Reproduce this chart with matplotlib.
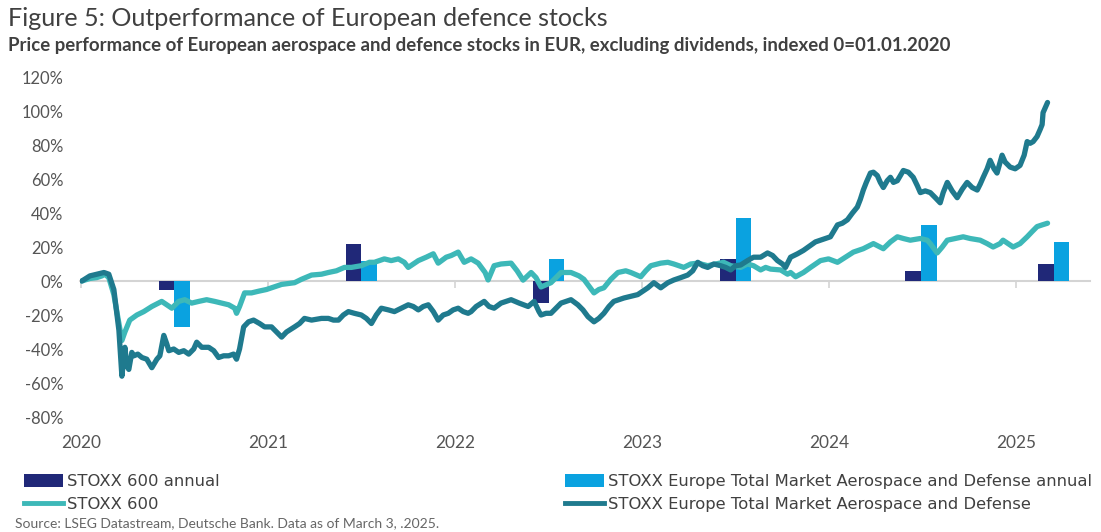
import matplotlib
matplotlib.use("Agg")
import matplotlib.pyplot as plt
from matplotlib.patches import Patch
from matplotlib.lines import Line2D
from matplotlib import font_manager as fm
import numpy as np

# ---------------- data ----------------
years = [2020, 2021, 2022, 2023, 2024, 2025]
year_labels = ["2020", "2021", "2022", "2023", "2024", "2025"]

# annual bar positions (fraction of year) and values (%)
bar_pos = [2020.50, 2021.50, 2022.50, 2023.50, 2024.49, 2025.20]
stoxx_annual = [-5, 22, -13, 13, 6, 10]
aero_annual = [-27, 12, 13, 37, 33, 23]

# STOXX 600 index performance (time as fractional year, value %)
stoxx_t = [2020.005, 2020.048, 2020.085, 2020.112, 2020.128, 2020.149, 2020.176, 2020.203,
           2020.219, 2020.235, 2020.261, 2020.299, 2020.336, 2020.379, 2020.432, 2020.459,
           2020.486, 2020.523, 2020.555, 2020.592, 2020.630, 2020.672, 2020.715, 2020.752,
           2020.790, 2020.822, 2020.832, 2020.848, 2020.875, 2020.912, 2020.950, 2020.992,
           2021.019, 2021.073, 2021.142, 2021.179, 2021.233, 2021.286, 2021.323, 2021.366,
           2021.409, 2021.446, 2021.499, 2021.542, 2021.569, 2021.622, 2021.659, 2021.697,
           2021.729, 2021.750, 2021.777, 2021.804, 2021.846, 2021.884, 2021.910, 2021.953,
           2021.980, 2022.017, 2022.049, 2022.086, 2022.124, 2022.161, 2022.177, 2022.209,
           2022.246, 2022.300, 2022.332, 2022.364, 2022.407, 2022.433, 2022.460, 2022.513,
           2022.567, 2022.620, 2022.663, 2022.689, 2022.716, 2022.743, 2022.769, 2022.796,
           2022.833, 2022.871, 2022.913, 2022.940, 2022.993, 2023.020, 2023.047, 2023.100,
           2023.138, 2023.170, 2023.223, 2023.260, 2023.298, 2023.351, 2023.394, 2023.436,
           2023.474, 2023.527, 2023.564, 2023.596, 2023.634, 2023.661, 2023.687, 2023.741,
           2023.778, 2023.794, 2023.821, 2023.863, 2023.901, 2023.954, 2023.997, 2024.045,
           2024.087, 2024.130, 2024.183, 2024.237, 2024.290, 2024.328, 2024.365, 2024.397,
           2024.434, 2024.488, 2024.525, 2024.541, 2024.578, 2024.605, 2024.632, 2024.674,
           2024.717, 2024.754, 2024.808, 2024.845, 2024.877, 2024.914, 2024.930, 2024.957,
           2024.984, 2025.021, 2025.059, 2025.085, 2025.112, 2025.139, 2025.168]
stoxx_v = [0, 1.5, 2, 3, 4, 2, -8, -25,
           -35, -30, -23, -20, -18, -15, -12, -14,
           -16, -12, -11, -13, -12, -11, -12, -13,
           -14, -16, -19, -15, -7, -7, -6, -5,
           -4, -2, -1, 1, 3.5, 4, 5, 6,
           8, 8, 9, 11, 11, 13, 12, 13,
           11, 8, 10, 12, 14, 16, 10.5, 14,
           15, 17, 11, 13, 10.5, 5, 0.6, 9,
           10, 10.5, 6, 0.5, 5, 2, -3.5, -1,
           5, 5, 3, 1, -3, -7, -5, -4,
           1, 5, 6, 5, 2.5, 6, 9, 10.5,
           11, 10, 8, 10, 10.5, 9, 10, 11,
           9, 8, 10, 9, 6.5, 8, 7, 6.5,
           4, 5, 2.5, 5, 8, 12, 13, 11,
           14, 17, 19, 22, 19, 23, 26, 25,
           24, 25, 24, 22, 16.5, 20, 24, 25,
           26, 25, 24, 22, 20, 22, 24, 22,
           20, 22, 26, 29, 32, 33, 34]

# STOXX Europe Total Market Aerospace and Defense performance
aero_t = [2020.005, 2020.048, 2020.085, 2020.123, 2020.149, 2020.176, 2020.203, 2020.219,
          2020.229, 2020.235, 2020.245, 2020.256, 2020.272, 2020.283, 2020.304, 2020.326,
          2020.352, 2020.379, 2020.406, 2020.422, 2020.443, 2020.459, 2020.470, 2020.496,
          2020.523, 2020.550, 2020.576, 2020.603, 2020.619, 2020.646, 2020.683, 2020.710,
          2020.736, 2020.763, 2020.790, 2020.816, 2020.832, 2020.848, 2020.870, 2020.896,
          2020.923, 2020.955, 2020.982, 2021.019, 2021.046, 2021.073, 2021.099, 2021.142,
          2021.169, 2021.195, 2021.233, 2021.286, 2021.323, 2021.350, 2021.377, 2021.403,
          2021.430, 2021.462, 2021.499, 2021.526, 2021.553, 2021.579, 2021.606, 2021.644,
          2021.676, 2021.713, 2021.750, 2021.777, 2021.804, 2021.830, 2021.857, 2021.884,
          2021.910, 2021.937, 2021.964, 2021.990, 2022.017, 2022.044, 2022.070, 2022.086,
          2022.113, 2022.156, 2022.182, 2022.209, 2022.246, 2022.300, 2022.343, 2022.391,
          2022.423, 2022.449, 2022.460, 2022.487, 2022.513, 2022.540, 2022.567, 2022.593,
          2022.620, 2022.657, 2022.684, 2022.711, 2022.743, 2022.769, 2022.796, 2022.823,
          2022.849, 2022.876, 2022.903, 2022.940, 2022.977, 2023.004, 2023.031, 2023.063,
          2023.100, 2023.138, 2023.170, 2023.207, 2023.244, 2023.271, 2023.298, 2023.324,
          2023.351, 2023.383, 2023.420, 2023.447, 2023.474, 2023.500, 2023.527, 2023.564,
          2023.596, 2023.634, 2023.671, 2023.698, 2023.724, 2023.751, 2023.767, 2023.794,
          2023.831, 2023.863, 2023.901, 2023.927, 2023.954, 2023.981, 2024.007, 2024.045,
          2024.071, 2024.098, 2024.125, 2024.151, 2024.167, 2024.183, 2024.199, 2024.221,
          2024.237, 2024.258, 2024.274, 2024.290, 2024.311, 2024.328, 2024.344, 2024.365,
          2024.381, 2024.397, 2024.424, 2024.450, 2024.472, 2024.488, 2024.514, 2024.541,
          2024.568, 2024.594, 2024.610, 2024.632, 2024.658, 2024.685, 2024.712, 2024.738,
          2024.765, 2024.792, 2024.808, 2024.824, 2024.845, 2024.861, 2024.882, 2024.898,
          2024.925, 2024.941, 2024.968, 2024.995, 2025.021, 2025.043, 2025.059, 2025.075,
          2025.091, 2025.112, 2025.128, 2025.139, 2025.144, 2025.168]
aero_v = [0, 3, 4, 5, 4, -5, -29, -56,
          -45, -39, -50, -52, -42, -44, -43, -45,
          -46, -51, -46, -44, -32, -37, -41, -40,
          -42, -41, -43, -40, -36, -39, -39, -41,
          -45, -44, -44, -43, -46, -40, -27, -24,
          -23, -25, -27, -27, -30, -33, -30, -27,
          -25, -22, -23, -22, -22, -23, -23, -20,
          -18, -19, -20, -22, -25, -20, -16, -17,
          -18, -16, -14, -15, -17, -15, -14, -18,
          -23, -20, -19, -17, -16, -18, -19, -18,
          -15, -12, -15, -16, -13, -11, -13, -15,
          -12, -18, -20, -19, -19, -16, -13, -12,
          -11, -14, -17, -21, -24, -22, -19, -15,
          -12, -11, -10, -9, -8, -6, -4, -1,
          -4, -1, 0.6, 2, 3.5, 6, 11, 9,
          8, 10, 9, 8, 6.5, 9, 9.4, 12,
          14, 14, 16.5, 15, 12, 10, 8, 14,
          16, 18, 21, 23, 24, 25, 26, 33,
          34, 36, 40, 43.5, 48, 53.5, 58, 63.5,
          64, 62, 58, 55, 59, 61, 58, 59,
          62, 65, 64, 61, 56, 52, 53, 52,
          49, 46, 52, 58, 53, 49, 54, 58,
          55, 53.5, 57, 61, 66, 71, 66, 63.5,
          74, 70, 67, 66, 68, 74, 82, 81,
          82, 85, 89, 92, 99, 105]

# ---------------- styling ----------------
C_DARK_BAR = "#202878"
C_LIGHT_BAR = "#0aa2e0"
C_STOXX = "#3db8b8"
C_AERO = "#1f7a8e"
TXT = "#404040"

W, H = 1101, 532
fig = plt.figure(figsize=(W / 100, H / 100), dpi=100)
renderer = fig.canvas.get_renderer()

FP_SANS = fm.FontProperties(family=["Lato", "DejaVu Sans"])
FP_SANS_B = fm.FontProperties(family=["Lato", "DejaVu Sans"], weight="bold")
FP_LEG = fm.FontProperties(family=["DejaVu Sans"])
FP_SRC = fm.FontProperties(family=["Lato", "DejaVu Sans"])


def fitted(fp, s, target_px, base=12.0):
    p = fp.copy()
    p.set_size(base)
    t = fig.text(0, 0, s, fontproperties=p)
    w = t.get_window_extent(renderer).width
    t.remove()
    q = fp.copy()
    q.set_size(base * target_px / w)
    return q


ax = fig.add_axes([80 / W, 1 - 417 / H, 1010 / W, 340 / H])

bar_w = 0.085
ax.bar(np.array(bar_pos) - bar_w / 2, stoxx_annual, width=bar_w, color=C_DARK_BAR, zorder=2)
ax.bar(np.array(bar_pos) + bar_w / 2, aero_annual, width=bar_w, color=C_LIGHT_BAR, zorder=2)

ax.plot(stoxx_t, stoxx_v, color=C_STOXX, lw=3.8, solid_joinstyle="round", solid_capstyle="round", zorder=3)
ax.plot(aero_t, aero_v, color=C_AERO, lw=3.8, solid_joinstyle="round", solid_capstyle="round", zorder=4)

ax.set_xlim(2019.995, 2025.395)
ax.set_ylim(-80, 120)
for s in ax.spines.values():
    s.set_visible(False)

ytick_vals = list(range(-80, 121, 20))
fp_y = fitted(FP_SANS, "120%", 42)
ax.set_yticks(ytick_vals)
ax.set_yticklabels([f"{v}%" for v in ytick_vals], fontproperties=fp_y, color="#555555")
ax.tick_params(axis="y", length=0, pad=12)

fp_x = fitted(FP_SANS, "2020", 40)
ax.set_xticks(years)
ax.set_xticklabels(year_labels, fontproperties=fp_x, color="#555555")
ax.tick_params(axis="x", length=0, pad=13)

# zero axis line with tick marks
sec = ax.secondary_xaxis(0.4)
sec.set_xticks(years)
sec.set_xticklabels([])
sec.spines["bottom"].set_color("#d4d4d4")
sec.spines["bottom"].set_linewidth(1.5)
sec.tick_params(axis="x", color="#d4d4d4", length=5, width=1.2, direction="out")
sec.set_zorder(1)

# titles
title = "Figure 5: Outperformance of European defence stocks"
subtitle = ("Price performance of European aerospace and defence stocks in EUR, "
            "excluding dividends, indexed 0=01.01.2020")
fig.text(8 / W, 1 - 19 / H, title, fontproperties=fitted(FP_SANS, title, 604, 16),
         color=TXT, va="center", ha="left")
fig.text(8 / W, 1 - 46 / H, subtitle, fontproperties=fitted(FP_SANS_B, subtitle, 940, 12),
         color=TXT, va="center", ha="left")

# legends
long_label = "STOXX Europe Total Market Aerospace and Defense annual"
fp_leg = fitted(FP_LEG, long_label, 484, 13)
px_per_unit = fp_leg.get_size_in_points() * 100 / 72


def make_legend(handles, labels, x):
    leg = fig.legend(handles, labels, loc="upper left", bbox_to_anchor=(x / W, 1 - 474 / H),
                     frameon=False, borderpad=0, borderaxespad=0,
                     handlelength=39 / px_per_unit, handleheight=13 / px_per_unit,
                     handletextpad=4 / px_per_unit, labelspacing=0.5,
                     prop=fp_leg)
    for t in leg.get_texts():
        t.set_color(TXT)
    return leg


h_dark = Patch(facecolor=C_DARK_BAR, edgecolor="none")
h_light = Patch(facecolor=C_LIGHT_BAR, edgecolor="none")
h_stoxx = Line2D([], [], color=C_STOXX, lw=3.5)
h_aero = Line2D([], [], color=C_AERO, lw=3.5)
make_legend([h_dark, h_stoxx], ["STOXX 600 annual", "STOXX 600"], 24)
make_legend([h_light, h_aero],
            [long_label, "STOXX Europe Total Market Aerospace and Defense"], 565)

source = "Source: LSEG Datastream, Deutsche Bank. Data as of March 3, .2025."
fig.text(15 / W, 1 - 523 / H, source, fontproperties=fitted(FP_SRC, source, 425, 10),
         color="#666666", va="center", ha="left")

fig.savefig("out.png", dpi=100)
